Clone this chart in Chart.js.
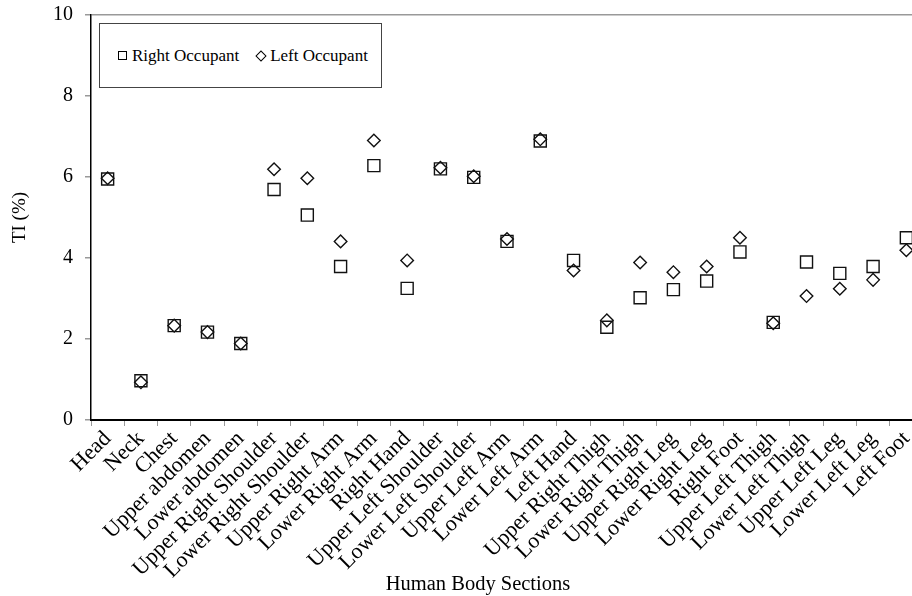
<!DOCTYPE html>
<html>
<head>
<meta charset="utf-8">
<script src="https://cdn.jsdelivr.net/npm/chart.js@4.4.0/dist/chart.umd.min.js"></script>
<style>
  body { margin: 0; overflow: hidden; background: #fff; }
  #cadre { position: relative; width: 923px; height: 596px; }
  #legende {
    position: absolute; left: 99px; top: 23px; width: 283px; height: 65px;
    box-sizing: border-box; border: 1px solid #444; background: #fff;
    display: flex; align-items: center; padding-left: 18px; white-space: nowrap;
    font-family: 'Liberation Serif', 'Times New Roman', serif; font-size: 17px; color: #000;
  }
  .item { display: flex; align-items: center; margin-right: 16px; flex: none; }
  .carre { width: 7px; height: 7px; border: 1px solid #000; margin-right: 5px; flex: none; }
  .losange { width: 6px; height: 6px; border: 1px solid #000; transform: rotate(45deg); margin: 0 5px 0 2px; flex: none; }
  #titre_x {
    position: absolute; left: 378px; width: 200px; top: 570px; text-align: center; white-space: nowrap;
    font-family: 'Liberation Serif', 'Times New Roman', serif; font-size: 20.5px; line-height: 26px; color: #000;
  }
</style>
</head>
<body>
<div id="cadre">
  <canvas id="graphique" width="923" height="596"></canvas>
  <div id="legende"></div>
  <div id="titre_x"></div>
</div>
<script>
// categories (sections du corps)
const categories = ['Head', 'Neck', 'Chest', 'Upper abdomen', 'Lower abdomen',
  'Upper Right Shoulder', 'Lower Right Shoulder', 'Upper Right Arm', 'Lower Right Arm', 'Right Hand',
  'Upper Left Shoulder', 'Lower Left Shoulder', 'Upper Left Arm', 'Lower Left Arm', 'Left Hand',
  'Upper Right Thigh', 'Lower Right Thigh', 'Upper Right Leg', 'Lower Right Leg', 'Right Foot',
  'Upper Left Thigh', 'Lower Left Thigh', 'Upper Left Leg', 'Lower Left Leg', 'Left Foot'];

// TI (%)
const rightOccupant = [5.95, 0.97, 2.33, 2.17, 1.89, 5.69, 5.06, 3.79, 6.28, 3.25,
  6.20, 5.99, 4.41, 6.89, 3.94, 2.29, 3.02, 3.22, 3.43, 4.15,
  2.41, 3.90, 3.62, 3.79, 4.50];
const leftOccupant = [5.97, 0.93, 2.33, 2.17, 1.89, 6.19, 5.97, 4.41, 6.90, 3.94,
  6.23, 6.02, 4.47, 6.93, 3.69, 2.46, 3.89, 3.65, 3.79, 4.50,
  2.39, 3.06, 3.24, 3.46, 4.19];

// axe y
const yMin = 0;
const yMax = 10;
const yStep = 2;

const xTitle = 'Human Body Sections';
const yTitle = 'TI (%)';

const police = "'Liberation Serif', 'Times New Roman', serif";

const graph = document.getElementById('graphique');

const chart = new Chart(graph, {
  type: 'line',
  data: {
    labels: categories,
    datasets: [{
      label: 'Right Occupant',
      data: rightOccupant,
      showLine: false,
      pointStyle: 'rect',
      pointRadius: 8.5,
      pointHoverRadius: 8.5,
      pointBorderWidth: 1.4,
      borderColor: '#111',
      backgroundColor: 'rgba(0,0,0,0)',
    }, {
      label: 'Left Occupant',
      data: leftOccupant,
      showLine: false,
      pointStyle: 'rectRot',
      pointRadius: 6.3,
      pointHoverRadius: 6.3,
      pointBorderWidth: 1.4,
      borderColor: '#111',
      backgroundColor: 'rgba(0,0,0,0)',
    }]
  },
  options: {
    responsive: false,
    animation: false,
    layout: {
      autoPadding: false, // le graphique est coupe a droite
      padding: { top: 15, left: 0, right: 0, bottom: 0 },
    },
    plugins: {
      legend: { display: false },
      tooltip: { enabled: false },
    },
    scales: {
      x: {
        offset: true,
        grid: {
          display: true,
          offset: true,
          drawOnChartArea: false,
          tickLength: 6,
          tickColor: '#999',
        },
        border: { color: '#000', width: 2 },
        ticks: {
          autoSkip: false, // toutes les etiquettes
          minRotation: 45,
          maxRotation: 45,
          padding: 0,
          color: '#000',
          font: { family: police, size: 22 },
        },
        afterFit: s => {
          s.height = 176;
          s.paddingLeft = 0;
          s.paddingRight = 0;
        },
      },
      y: {
        min: yMin,
        max: yMax,
        grid: {
          color: ctx => (ctx.tick && ctx.tick.value === yMax ? '#999' : 'rgba(0,0,0,0)'),
          tickColor: '#999',
          tickLength: 6,
          lineWidth: 1.5,
        },
        border: { color: '#000', width: 1.5 },
        ticks: {
          stepSize: yStep,
          padding: 12,
          color: '#000',
          font: { family: police, size: 20 },
        },
        title: {
          display: true,
          text: yTitle,
          color: '#000',
          font: { family: police, size: 19 },
          padding: { top: 9, bottom: 0 },
        },
        afterFit: s => {
          s.width = 91;
          s.paddingTop = 0;
          s.paddingBottom = 0;
        },
      }
    }
  }
});

// titre de l'axe x (decale vers la gauche comme dans l'original)
document.getElementById('titre_x').textContent = xTitle;

// legende en HTML, construite depuis les datasets
const legende = document.getElementById('legende');
chart.data.datasets.forEach(ds => {
  const item = document.createElement('div');
  item.className = 'item';
  const marque = document.createElement('span');
  marque.className = ds.pointStyle === 'rect' ? 'carre' : 'losange';
  const txt = document.createElement('span');
  txt.textContent = ds.label;
  item.appendChild(marque);
  item.appendChild(txt);
  legende.appendChild(item);
});
</script>
</body>
</html>
